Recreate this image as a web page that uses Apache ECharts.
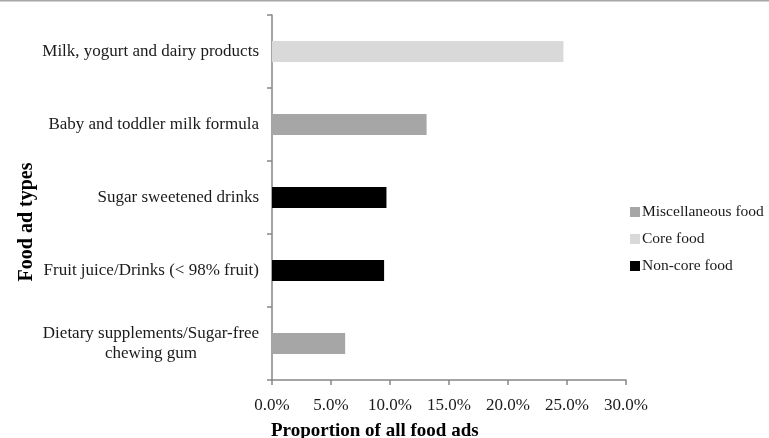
<!DOCTYPE html>
<html>
<head>
<meta charset="utf-8">
<script src="https://cdn.jsdelivr.net/npm/echarts@6/dist/echarts.min.js"></script>
<style>html,body{margin:0;padding:0;background:#fff}#c{width:769px;height:438px}</style>
</head>
<body>
<div id="c"></div>
<script>
var categories = [
  'Milk, yogurt and dairy products',
  'Baby and toddler milk formula',
  'Sugar sweetened drinks',
  'Fruit juice/Drinks (< 98% fruit)',
  'Dietary supplements/Sugar-free\nchewing gum'
];
var miscValues = ['-', 13.1, '-', '-', 6.2];
var coreValues = [24.7, '-', '-', '-', '-'];
var nonCoreValues = ['-', '-', 9.7, 9.5, '-'];
var seriesNames = ['Miscellaneous food', 'Core food', 'Non-core food'];
var xTicks = [0, 5, 10, 15, 20, 25, 30];

var font = '"Liberation Serif", "Times New Roman", serif';
var chart = echarts.init(document.getElementById('c'), null, {renderer: 'canvas'});
function bar(name, data, color) {
  return {
    name: name, type: 'bar', stack: 'all', data: data, barWidth: 21,
    itemStyle: {color: color}, emphasis: {disabled: true}
  };
}
chart.setOption({
  animation: false,
  backgroundColor: '#fff',
  textStyle: {fontFamily: font},
  grid: {left: 272, right: 143, top: 15, bottom: 58, containLabel: false},
  legend: {
    orient: 'vertical', left: 630, top: 204, padding: 0,
    itemWidth: 10, itemHeight: 10, itemGap: 11,
    icon: 'rect',
    data: seriesNames,
    textStyle: {fontFamily: font, fontSize: 15.5, lineHeight: 16, color: '#1a1a1a', padding: [0, 0, 0, -3]}
  },
  xAxis: {
    type: 'value', min: xTicks[0], max: xTicks[xTicks.length - 1], interval: 5,
    axisLine: {show: true, lineStyle: {color: '#868686', width: 1.5}},
    axisTick: {show: true, length: 5, lineStyle: {color: '#868686', width: 1.5}},
    splitLine: {show: false},
    axisLabel: {
      fontFamily: font, fontSize: 17, color: '#1a1a1a', margin: 17,
      formatter: function (v) { return v.toFixed(1) + '%'; }
    }
  },
  yAxis: {
    type: 'category', inverse: true, data: categories,
    axisLine: {show: true, lineStyle: {color: '#868686', width: 1.5}},
    axisTick: {show: true, length: 5, lineStyle: {color: '#868686', width: 1.5}},
    axisLabel: {
      fontFamily: font, fontSize: 17, color: '#1a1a1a', margin: 13, lineHeight: 20,
      formatter: function (v) {
        if (v.indexOf('\n') >= 0) {
          return v.split('\n').map(function (s) { return '{c|' + s + '}'; }).join('\n');
        }
        return v;
      },
      rich: {c: {width: 216, align: 'center', fontFamily: font, fontSize: 17, color: '#1a1a1a', lineHeight: 20}}
    }
  },
  graphic: [
    {type: 'line', shape: {x1: 0, y1: 0.5, x2: 769, y2: 0.5}, style: {stroke: '#a6a6a6', lineWidth: 2}},
    {type: 'text', left: 271, top: 422, style: {text: 'Proportion of all food ads', fontFamily: font, fontSize: 19, fontWeight: 'bold', fill: '#000'}},
    {type: 'text', x: 27, y: 222, rotation: Math.PI / 2, style: {text: 'Food ad types', fontFamily: font, fontSize: 20, fontWeight: 'bold', fill: '#000', align: 'center', verticalAlign: 'middle'}}
  ],
  series: [
    bar(seriesNames[0], miscValues, '#a6a6a6'),
    bar(seriesNames[1], coreValues, '#d9d9d9'),
    bar(seriesNames[2], nonCoreValues, '#000000')
  ]
});
</script>
</body>
</html>
